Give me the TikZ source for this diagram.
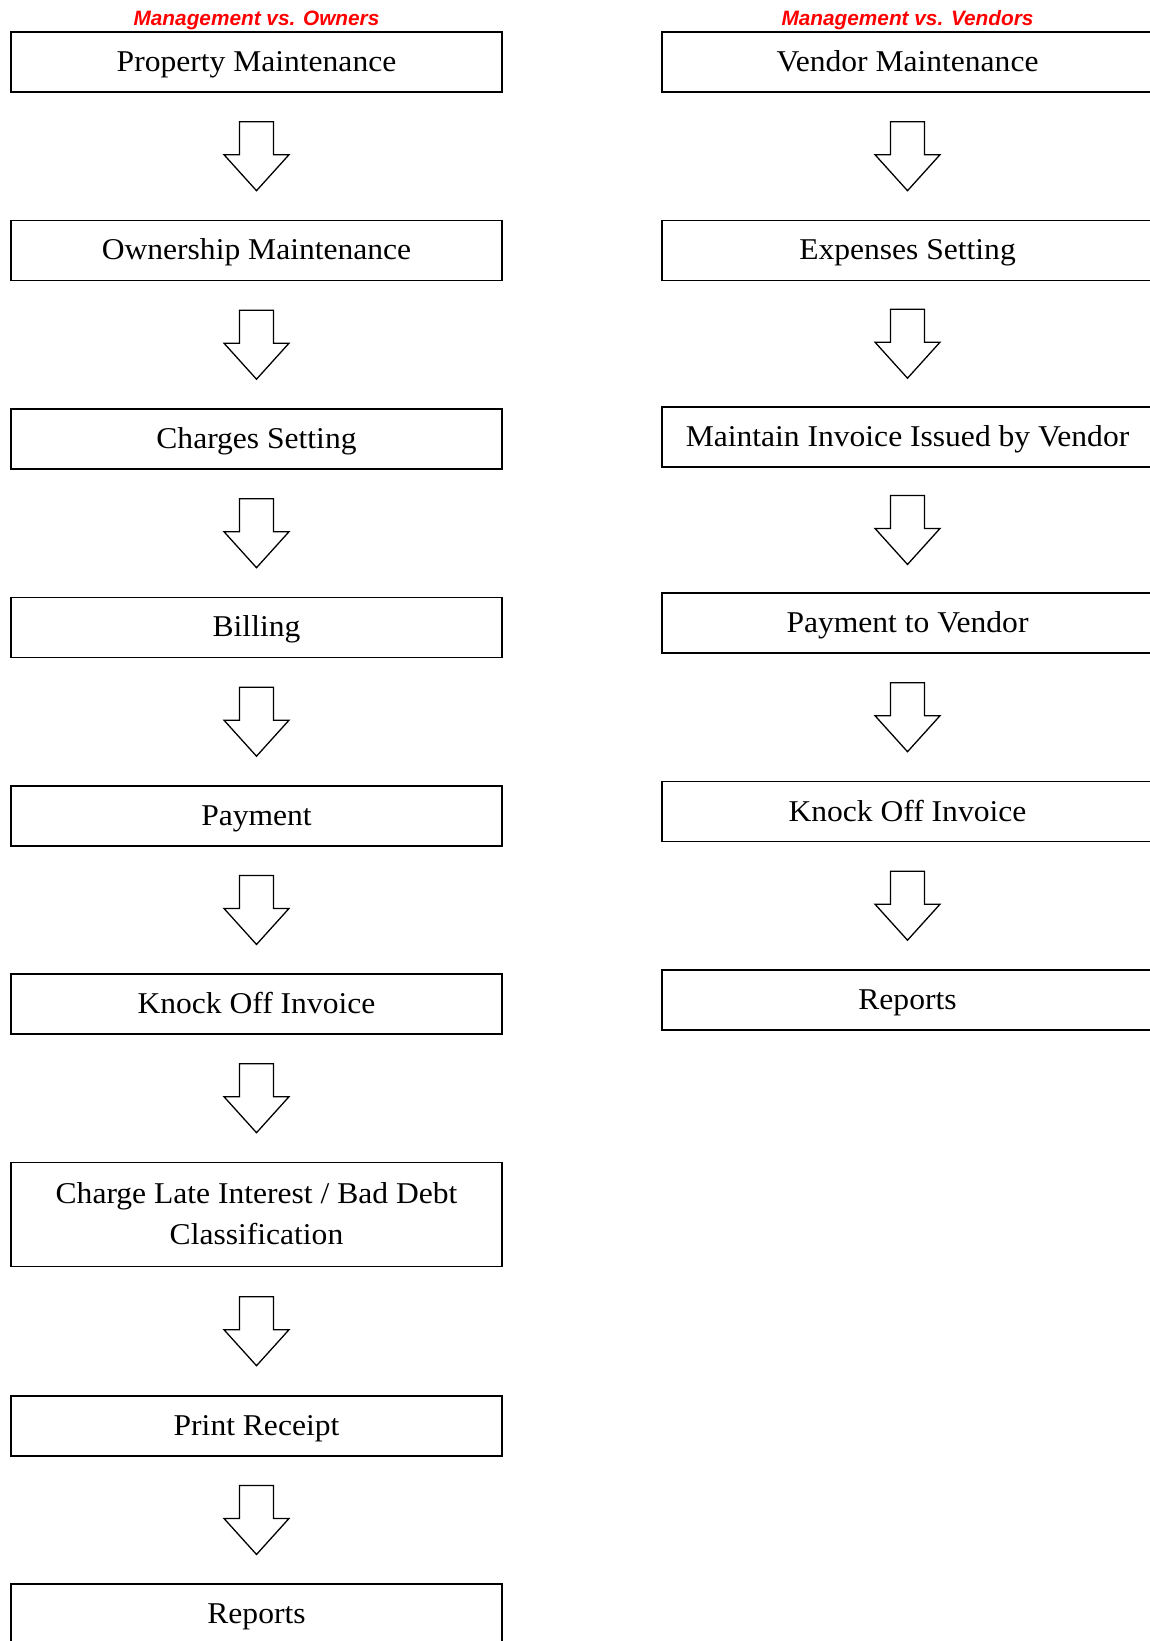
\documentclass[tikz,border=0pt]{standalone}
\usepackage{fontspec}
\newfontfamily\boxfont[FakeStretch=1.045]{Liberation Serif}
\newfontfamily\headfont{Liberation Sans}
\newcommand\bxstrut{\rule[-0.2em]{0pt}{1.04em}}
\definecolor{headred}{RGB}{255,0,0}
\tikzset{
  stepbox/.style={draw=black, line width=1.9pt, minimum width=491pt, minimum height=60pt,
    inner sep=0pt, anchor=north, align=center, font=\boxfont\fontsize{30.2}{41}\selectfont},
  headtext/.style={anchor=base, text=headred, inner sep=0pt, font=\headfont\bfseries\itshape\fontsize{20.8}{24}\selectfont},
  arrowline/.style={draw=black, line width=1.3pt, fill=white, line join=miter},
  downblock/.pic={\path[arrowline] (-17,-34.5) -- (17,-34.5) -- (17,-1.5) -- (32.5,-1.5) -- (0,34.5) -- (-32.5,-1.5) -- (-17,-1.5) -- cycle;}
}
\begin{document}
\begin{tikzpicture}[x=1pt,y=-1pt]
\useasboundingbox[fill=white] (0,0) rectangle (1150,1641);
% headings
\node[headtext] (hL) at (256.5,25) {Management vs. Owners};
\node[headtext] (hR) at (907.5,25) {Management vs. Vendors};
% left column
\node[stepbox] (L1) at (256.5,31) {\bxstrut Property Maintenance};
\node[stepbox] (L2) at (256.5,219.5) {\bxstrut Ownership Maintenance};
\node[stepbox] (L3) at (256.5,408) {\bxstrut Charges Setting};
\node[stepbox] (L4) at (256.5,596.5) {\bxstrut Billing};
\node[stepbox] (L5) at (256.5,785) {\bxstrut Payment};
\node[stepbox] (L6) at (256.5,973) {\bxstrut Knock Off Invoice};
\node[stepbox, minimum height=104pt] (L7) at (256.5,1161.5) {\bxstrut Charge Late Interest / Bad Debt\\\bxstrut Classification};
\node[stepbox] (L8) at (256.5,1395) {\bxstrut Print Receipt};
\node[stepbox] (L9) at (256.5,1583) {\bxstrut Reports};
% right column
\node[stepbox] (R1) at (907.5,31) {\bxstrut Vendor Maintenance};
\node[stepbox] (R2) at (907.5,219.5) {\bxstrut Expenses Setting};
\node[stepbox] (R3) at (907.5,406) {\bxstrut Maintain Invoice Issued by Vendor};
\node[stepbox] (R4) at (907.5,592) {\bxstrut Payment to Vendor};
\node[stepbox] (R5) at (907.5,780.5) {\bxstrut Knock Off Invoice};
\node[stepbox] (R6) at (907.5,969) {\bxstrut Reports};
% block arrows between steps
\foreach \a/\b in {L1/L2,L2/L3,L3/L4,L4/L5,L5/L6,L6/L7,L7/L8,L8/L9,R1/R2,R2/R3,R3/R4,R4/R5,R5/R6}{
  \path (\a.south) -- (\b.north) coordinate[midway] (m\a);
  \pic at (m\a) {downblock};
}
\end{tikzpicture}
\end{document}
